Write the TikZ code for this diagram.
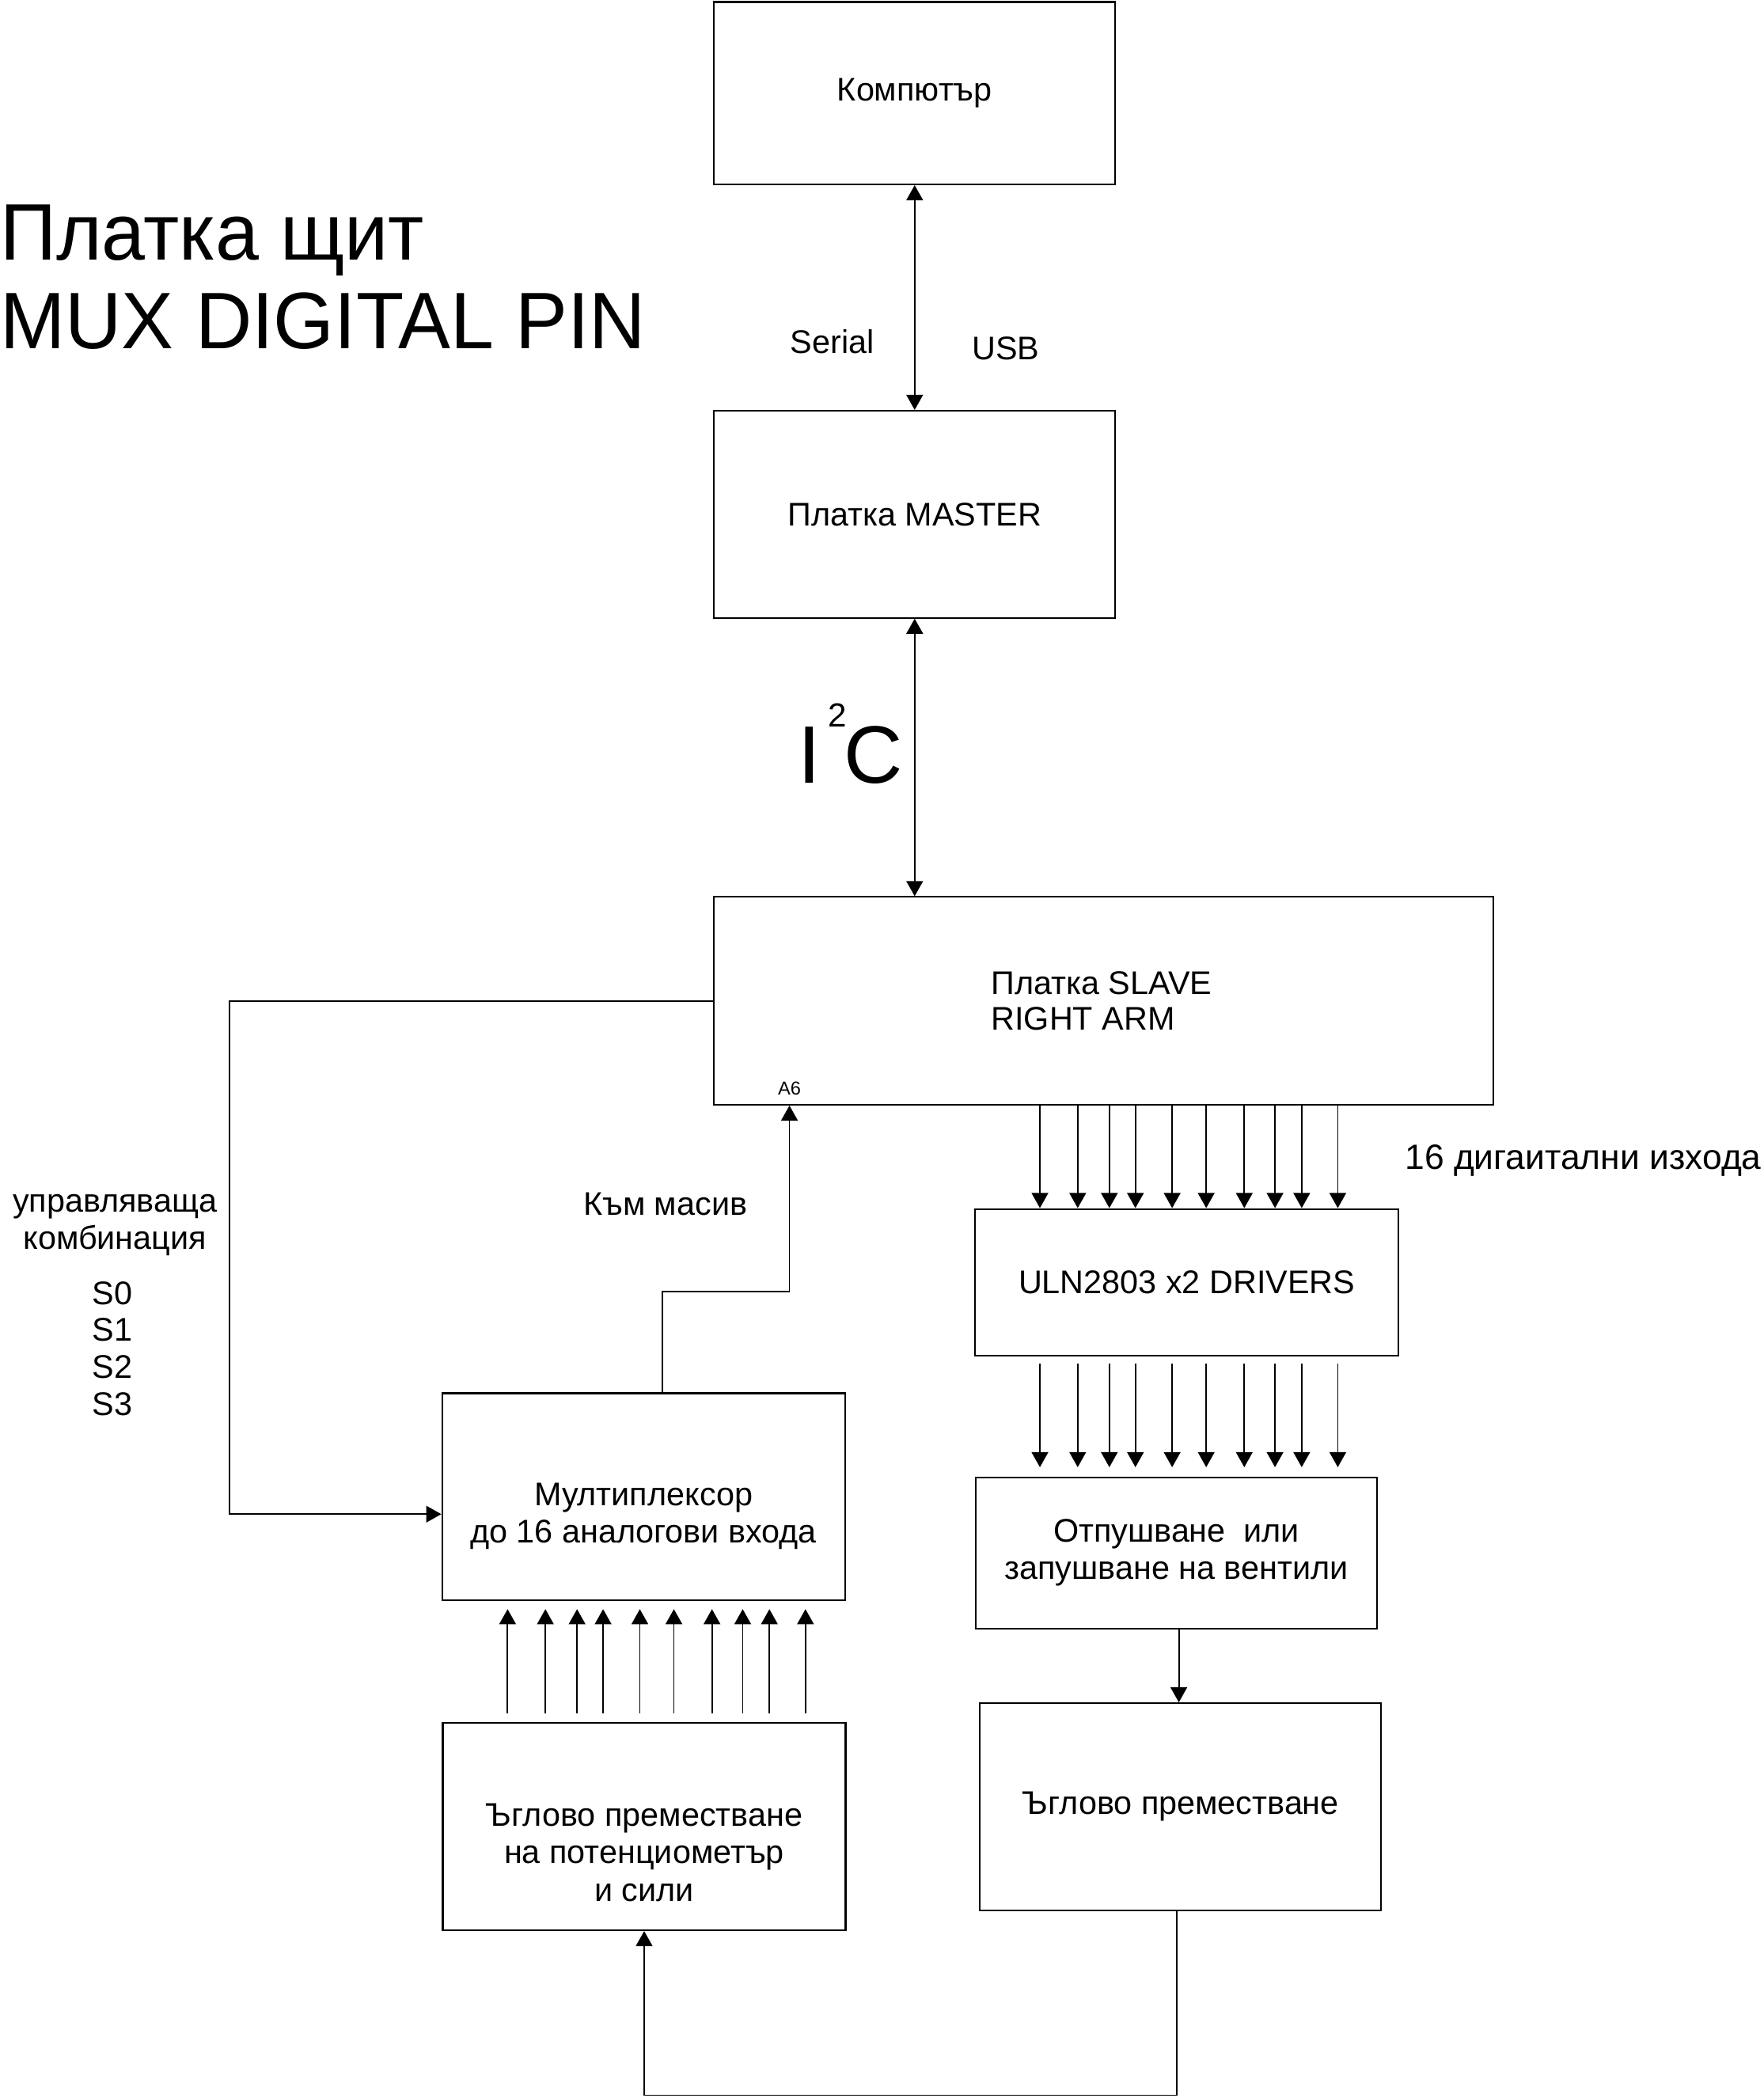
\documentclass[tikz,border=0pt]{standalone}
\usepackage{fontspec}
\setmainfont{Liberation Sans}
\usetikzlibrary{arrows.meta}
\tikzset{
  box/.style={draw, line width=1.25pt, inner sep=0pt, align=center, font=\fontsize{24.5}{28}\selectfont},
  txt/.style={inner sep=0pt, font=\fontsize{24.5}{28}\selectfont},
  bigtxt/.style={inner sep=0pt, font=\fontsize{60}{66}\selectfont},
  wire/.style={line width=1.1pt},
  conn/.style={line width=1.1pt, -{Triangle[width=12.4pt,length=11.3pt]}},
  biconn/.style={line width=1.1pt, {Triangle[width=12.4pt,length=11.3pt]}-{Triangle[width=12.4pt,length=11.3pt]}},
}
\begin{document}
\begin{tikzpicture}[x=1pt,y=-1pt]
\useasboundingbox (0,0) rectangle (1320,1570.6);

% title
\node[bigtxt, anchor=base west] (title1) at (0,194.5) {\scalebox{0.975}[1]{Платка щит}};
\node[bigtxt, anchor=base west] (title2) at (0,260.7) {\scalebox{0.975}[1]{MUX DIGITAL PIN}};

% boxes
\node[box, minimum width=300.5pt, minimum height=136.5pt] (kom) at (684.75,69.75) {Компютър};
\node[box, minimum width=300.5pt, minimum height=155pt] (master) at (684.75,385) {Платка MASTER};
\node[box, minimum width=583.5pt, minimum height=155.5pt] (slave) at (826.25,749.25) {};
\node[txt, align=left, anchor=west] (slavet) at ([xshift=208pt]slave.west) {Платка SLAVE\\[-1pt]RIGHT ARM};
\node[txt, anchor=base, font=\fontsize{14}{16}\selectfont] (a6) at (591,819.5) {A6};
\node[box, minimum width=317pt, minimum height=110pt] (uln) at (888.5,960) {ULN2803 x2 DRIVERS};
\node[box, minimum width=300.5pt, minimum height=113pt] (otp) at (880.75,1162.5) {Отпушване\ \ или\\запушване на вентили};
\node[box, minimum width=300.5pt, minimum height=155pt] (ugl) at (883.75,1352.5) {Ъглово преместване};
\node[box, minimum width=301.5pt, minimum height=155pt] (mux) at (481.75,1120.5) {};
\node[txt, align=center] (muxt) at ([yshift=-14.5pt]mux.center) {Мултиплексор\\до 16 аналогови входа};
\node[box, minimum width=301.5pt, minimum height=155pt] (pot) at (482.25,1367.5) {};
\node[txt, align=center] (pott) at ([yshift=-19.3pt]pot.center) {Ъглово преместване\\на потенциометър\\и сили};

% labels
\node[txt, anchor=base] (serial) at (623,264.6) {Serial};
\node[txt, anchor=base] (usb) at (753,269.5) {USB};
\node[inner sep=0pt, anchor=base west, font=\fontsize{61}{61}\selectfont] (i2c) at (597.5,586)
  {I\kern5.5pt\raisebox{42pt}{\fontsize{25}{25}\selectfont 2}\kern-2.5pt C};
\node[txt, anchor=base west, font=\fontsize{26.3}{30}\selectfont] (dig) at (1051.6,875.6) {16 дигаитални изхода};
\node[txt, anchor=base] (kam) at (498,910) {Към масив};
\node[txt, anchor=base] (upr1) at (86,907.4) {управляваща};
\node[txt, anchor=base] (upr2) at (86,935) {комбинация};
\node[txt, anchor=base] (s0) at (84,976.5) {S0};
\node[txt, anchor=base] (s1) at (84,1004) {S1};
\node[txt, anchor=base] (s2) at (84,1032) {S2};
\node[txt, anchor=base] (s3) at (84,1059.5) {S3};

% connectors
\draw[biconn] (kom.south) -- (master.north);
\draw[biconn] (master.south) -- (slave.north -| master.south);

\coordinate (lc1) at (172,749.25);
\coordinate (lc2) at (172,1133.5);
\draw[conn] (slave.west) -- (lc1) -- (lc2) -- (mux.west |- lc2);

\coordinate (m1) at (496,967);
\coordinate (m2) at (591,967);
\draw[conn] (mux.north -| m1) -- (m1) -- (m2) -- (slave.south -| m2);

\foreach \d in {0,28.3,52,71.5,99,124.5,153,176,196,223} {
  \coordinate (rx) at ({778.5+\d},0);
  \coordinate (lx) at ({380+\d},0);
  \draw[conn] (slave.south -| rx) -- (uln.north -| rx);
  \draw[conn, shorten <=5pt, shorten >=7pt] (uln.south -| rx) -- (otp.north -| rx);
  \draw[conn, shorten <=7pt, shorten >=6pt] (pot.north -| lx) -- (mux.south -| lx);
}

\coordinate (ox) at (882.5,0);
\draw[conn] (otp.south -| ox) -- (ugl.north -| ox);

\coordinate (bl1) at (881,1568.5);
\coordinate (bl2) at (482.25,1568.5);
\draw[conn] (ugl.south -| bl1) -- (bl1) -- (bl2) -- (pot.south);
\end{tikzpicture}
\end{document}
